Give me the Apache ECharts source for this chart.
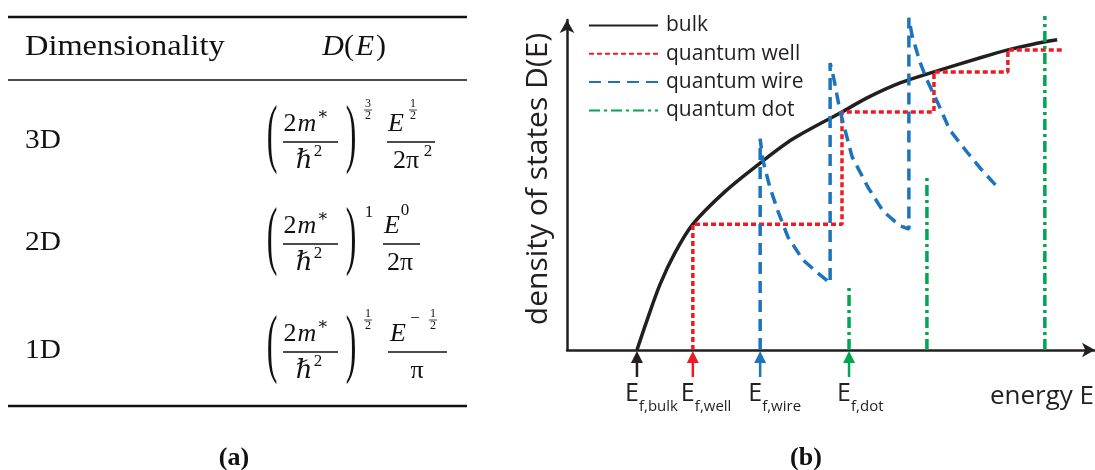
<!DOCTYPE html>
<html>
<head>
<meta charset="utf-8">
<script src="https://cdn.jsdelivr.net/npm/echarts@6/dist/echarts.min.js"></script>
<style>
  html, body { margin: 0; padding: 0; background: #ffffff; }
  #main { width: 1095px; height: 470px; }
</style>
</head>
<body>
<div id="main"></div>
<script>
// ---- data (energy, density of states), arbitrary units ----
const seriesNames = ['bulk', 'quantum well', 'quantum wire', 'quantum dot'];

// 3D bulk: smooth rising curve
const bulkCurve = [
  [1.59, 0], [1.82, 0.68], [2.11, 1.48], [2.45, 2.20], [2.86, 2.86], [3.59, 3.60],
  [4.39, 4.25], [5.14, 4.80], [6.25, 5.41], [6.82, 5.73], [7.57, 6.07], [8.34, 6.32],
  [9.45, 6.66], [10.02, 6.82], [10.59, 6.95], [11.14, 7.05]
];

// 2D quantum well: staircase
const wellEdges = [2.86, 6.25, 8.34, 10.02];
const wellLevels = [2.86, 5.41, 6.32, 6.82];
const wellEnd = 11.25;

// 1D quantum wire: spikes with decaying tails
const wireOnsets = [4.39, 5.98, 7.77];
const wirePeaks = [4.80, 6.52, 7.55];
const wireTails = [
  [[4.45, 4.32], [4.61, 3.70], [4.80, 3.14], [5.02, 2.57], [5.36, 2.05], [5.70, 1.75], [5.98, 1.52]],
  [[6.07, 6.14], [6.20, 5.45], [6.48, 4.39], [6.84, 3.70], [7.18, 3.16], [7.57, 2.82], [7.77, 2.75]],
  [[7.84, 7.16], [8.02, 6.55], [8.18, 6.14], [8.43, 5.61], [8.70, 5.00], [9.09, 4.50], [9.43, 4.09], [9.84, 3.64]]
];

// 0D quantum dot: discrete levels
const dotLevels = [6.41, 8.18, 10.86];
const dotHeights = [1.48, 3.98, 7.59];

// Fermi-level markers on the energy axis
const fermiLevels = [1.59, 2.86, 4.39, 6.41];
const fermiSubs = ['f,bulk', 'f,well', 'f,wire', 'f,dot'];

// table rows
const rowLabels = ['3D', '2D', '1D'];

// ---- colours & fonts ----
const INK = '#231f20';
const RED = '#ed1c24';
const BLUE = '#1c75bc';
const GREEN = '#00a651';
const markColors = [INK, RED, BLUE, GREEN];
const SANS = '"Open Sans", "Noto Sans", sans-serif';
const SERIF = '"Liberation Serif", "DejaVu Serif", serif';
const TEXT = '#111111';

// ---- build series points ----
const wellPoints = [];
wellEdges.forEach((x, i) => {
  wellPoints.push([x, i === 0 ? 0 : wellLevels[i - 1]]);
  wellPoints.push([x, wellLevels[i]]);
});
wellPoints.push([wellEnd, wellLevels[wellLevels.length - 1]]);

const wirePoints = [];
wireOnsets.forEach((x, i) => {
  const startY = i === 0 ? 0 : wireTails[i - 1][wireTails[i - 1].length - 1][1];
  wirePoints.push([x, startY]);
  wirePoints.push([x, wirePeaks[i]]);
  wireTails[i].forEach(p => wirePoints.push(p));
});

const lineBase = { type: 'line', symbol: 'none', showSymbol: false, clip: false, silent: true };

const series = [
  Object.assign({}, lineBase, {
    name: seriesNames[0], data: bulkCurve, smooth: 0.3,
    color: INK, lineStyle: { color: INK, width: 3.5, type: 'solid' }
  }),
  Object.assign({}, lineBase, {
    name: seriesNames[1], data: wellPoints,
    color: RED, lineStyle: { color: RED, width: 3.5, type: [5, 3] }
  }),
  Object.assign({}, lineBase, {
    name: seriesNames[2], data: wirePoints,
    color: BLUE, lineStyle: { color: BLUE, width: 3.5, type: [12, 7] }
  })
];
dotLevels.forEach((x, i) => {
  series.push(Object.assign({}, lineBase, {
    name: seriesNames[3], data: [[x, 0], [x, dotHeights[i]]],
    color: GREEN, lineStyle: { color: GREEN, width: 3.5, type: [11, 4, 3, 4] }
  }));
});

// arrows + labels under the energy axis
series.push({
  type: 'custom', name: 'fermi', coordinateSystem: 'cartesian2d', silent: true, clip: false,
  data: fermiLevels.map((x, i) => [x, 0, i]),
  encode: { x: 0, y: 1 },
  renderItem: function (params, api) {
    const p = api.coord([api.value(0), 0]);
    const i = api.value(2);
    const c = markColors[i];
    return {
      type: 'group',
      children: [
        { type: 'line', shape: { x1: p[0], y1: p[1] + 10, x2: p[0], y2: p[1] + 27 },
          style: { stroke: c, lineWidth: 2.5 } },
        { type: 'polygon', shape: { points: [[p[0], p[1] + 1], [p[0] - 6, p[1] + 13], [p[0] + 6, p[1] + 13]] },
          style: { fill: c } },
        { type: 'text', x: p[0] - 12, y: p[1] + 44,
          style: { text: 'E', font: '25px ' + SANS, fill: INK, textAlign: 'left', textVerticalAlign: 'middle' } },
        { type: 'text', x: p[0] + 2, y: p[1] + 57,
          style: { text: fermiSubs[i], font: '15px ' + SANS, fill: INK, textAlign: 'left', textVerticalAlign: 'middle' } }
      ]
    };
  }
});

// ---- table (a) ----
function tx(x, y, s, size, opt) {
  opt = opt || {};
  return {
    type: 'text', x: x, y: y, scaleX: opt.sx || 1, silent: true,
    style: {
      text: s,
      font: (opt.italic ? 'italic ' : '') + (opt.bold ? 'bold ' : '') + size + 'px ' + (opt.fam || SERIF),
      fill: TEXT, textAlign: opt.align || 'center', textVerticalAlign: 'middle'
    }
  };
}
function hline(x1, x2, y, w) {
  return { type: 'line', silent: true, shape: { x1: x1, y1: y, x2: x2, y2: y }, style: { stroke: TEXT, lineWidth: w } };
}
function tinyFrac(x, top, num, den) {
  return [
    tx(x, top + 5, num, 12),
    hline(x - 4, x + 4, top + 11, 0.8),
    tx(x, top + 17, den, 12)
  ];
}

const table = [];
table.push(hline(8, 467, 17, 2.4));
table.push(hline(8, 467, 80, 1.6));
table.push(hline(8, 467, 406, 2.4));
table.push(tx(25, 47, 'Dimensionality', 30, { align: 'left', sx: 1.08 }));
table.push(tx(333, 47, 'D', 30, { italic: true }));
table.push(tx(349, 47, '(', 30));
table.push(tx(365, 47, 'E', 30, { italic: true }));
table.push(tx(381, 47, ')', 30));

const rowBars = [142, 244, 352];
rowBars.forEach((by, r) => {
  table.push(tx(25, by - 1, rowLabels[r], 28, { align: 'left', sx: 1.05 }));
  // (2m*/hbar^2)
  table.push(tx(272, by - 4, '(', 76, { sx: 0.42 }));
  table.push(tx(351, by - 4, ')', 76, { sx: 0.42 }));
  table.push(tx(290, by - 18, '2', 26));
  table.push(tx(307, by - 18, 'm', 26, { italic: true }));
  table.push(tx(323, by - 27, '∗', 17));
  table.push(hline(283, 338, by, 1.3));
  table.push(tx(304, by + 19, 'ℏ', 26, { italic: true }));
  table.push(tx(318, by + 10, '2', 17));
  // exponent of the bracket
  if (r === 0) tinyFrac(368, by - 43, '3', '2').forEach(e => table.push(e));
  if (r === 1) table.push(tx(369, by - 31, '1', 17));
  if (r === 2) tinyFrac(368, by - 43, '1', '2').forEach(e => table.push(e));
  // energy fraction
  if (r === 0) {
    table.push(tx(396, by - 18, 'E', 26, { italic: true }));
    tinyFrac(413, by - 43, '1', '2').forEach(e => table.push(e));
    table.push(hline(387, 435, by, 1.3));
    table.push(tx(406, by + 19, '2π', 26));
    table.push(tx(428, by + 10, '2', 17));
  } else if (r === 1) {
    table.push(tx(392, by - 18, 'E', 26, { italic: true }));
    table.push(tx(405, by - 33, '0', 17));
    table.push(hline(383, 420, by, 1.3));
    table.push(tx(400, by + 19, '2π', 26));
  } else {
    table.push(tx(398, by - 18, 'E', 26, { italic: true }));
    table.push(tx(415, by - 33, '−', 17));
    tinyFrac(433, by - 43, '1', '2').forEach(e => table.push(e));
    table.push(hline(388, 447, by, 1.3));
    table.push(tx(417, by + 19, 'π', 26));
  }
});
table.push(tx(234, 458, '(a)', 26, { bold: true }));
table.push(tx(806, 458, '(b)', 26, { bold: true }));

// ---- plot labels ----
const plotText = [
  { type: 'text', x: 538, y: 179, rotation: Math.PI / 2, silent: true,
    style: { text: 'density of states D(E)', font: '30px ' + SANS, fill: INK, textAlign: 'center', textVerticalAlign: 'middle' } },
  { type: 'text', x: 1094, y: 397, silent: true,
    style: { text: 'energy E', font: '26px ' + SANS, fill: INK, textAlign: 'right', textVerticalAlign: 'middle' } }
];

const axisCommon = {
  type: 'value',
  axisLine: { show: true, symbol: ['none', 'arrow'], symbolSize: [11, 13], lineStyle: { color: INK, width: 2.5 } },
  axisTick: { show: false },
  axisLabel: { show: false },
  splitLine: { show: false }
};

const chart = echarts.init(document.getElementById('main'), null, { renderer: 'canvas' });
chart.setOption({
  animation: false,
  backgroundColor: '#ffffff',
  grid: { left: 567, top: 20, right: 0, bottom: 120, containLabel: false },
  xAxis: Object.assign({}, axisCommon, { min: 0, max: 12 }),
  yAxis: Object.assign({}, axisCommon, { min: 0, max: 7.5 }),
  legend: {
    orient: 'vertical', left: 583, top: 10, selectedMode: false,
    itemWidth: 69, itemHeight: 12, itemGap: 7.3,
    data: seriesNames,
    itemStyle: { opacity: 0 },
    textStyle: { fontFamily: SANS, fontSize: 21, color: INK, padding: [0, 0, 0, 3] }
  },
  series: series,
  graphic: table.concat(plotText)
});
</script>
</body>
</html>
